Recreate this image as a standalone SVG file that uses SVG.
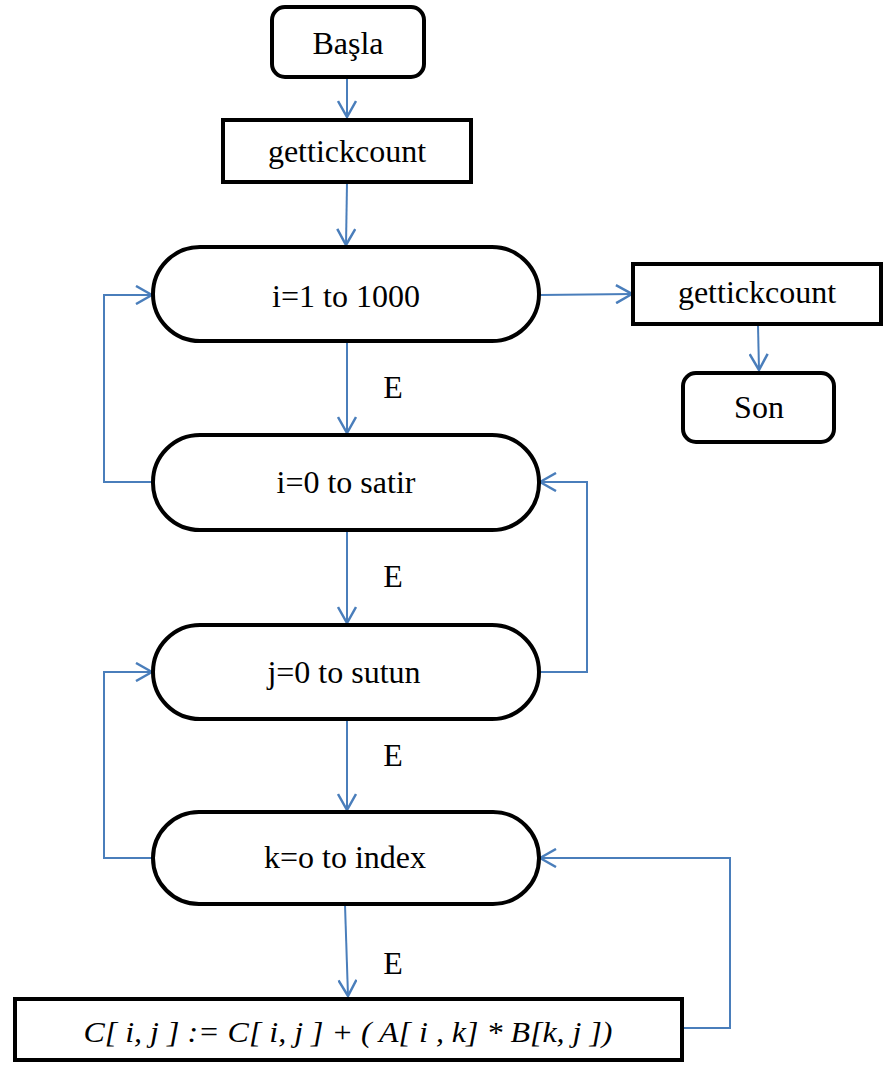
<svg xmlns="http://www.w3.org/2000/svg" width="884" height="1066" viewBox="0 0 884 1066">
  <style>
    .box { fill: #ffffff; stroke: #000000; stroke-width: 4; }
    .lbl { font-family: 'Liberation Serif', 'Times New Roman', Tinos, 'DejaVu Serif', serif; font-size: 32px; fill: #000000; text-anchor: middle; }
    .formula { font-style: italic; font-size: 30px; }
    .edge { fill: none; stroke: #4A7EBB; stroke-width: 2; }
  </style>
  <defs>
    <marker id="arrow" viewBox="0 0 18 20" refX="17" refY="10" markerWidth="18" markerHeight="20" markerUnits="userSpaceOnUse" orient="auto">
      <path d="M1,1 L17,10 L1,19" fill="none" stroke="#4A7EBB" stroke-width="2.5"/>
    </marker>
  </defs>
  <rect width="884" height="1066" fill="#ffffff"/>

  <!-- connectors -->
  <g id="connectors">
    <path class="edge" d="M347,78 L347,117" marker-end="url(#arrow)"/>
    <path class="edge" d="M347,183 L346,245" marker-end="url(#arrow)"/>
    <path class="edge" d="M540,295 L632,294" marker-end="url(#arrow)"/>
    <path class="edge" d="M758,325 L759,370" marker-end="url(#arrow)"/>
    <path class="edge" d="M347,343 L347,433" marker-end="url(#arrow)"/>
    <path class="edge" d="M347,532 L347,623" marker-end="url(#arrow)"/>
    <path class="edge" d="M347,720 L347,810" marker-end="url(#arrow)"/>
    <path class="edge" d="M345,905 L348,996" marker-end="url(#arrow)"/>
    <!-- outer loop back to i=1 to 1000 -->
    <path class="edge" d="M152,482 L104,482 L104,295 L152,295" marker-end="url(#arrow)"/>
    <!-- j loop back to i=0 to satir -->
    <path class="edge" d="M540,672 L587,672 L587,482 L540,482" marker-end="url(#arrow)"/>
    <!-- k loop back to j=0 to sutun -->
    <path class="edge" d="M152,858 L104,858 L104,672 L152,672" marker-end="url(#arrow)"/>
    <!-- body back to k=o to index -->
    <path class="edge" d="M683,1028 L730,1028 L730,858 L540,858" marker-end="url(#arrow)"/>
  </g>

  <g id="start">
    <rect class="box" x="272" y="7" width="152" height="70" rx="13"/>
    <text class="lbl" x="348" y="54">Başla</text>
  </g>

  <g id="tick-start">
    <rect class="box" x="223" y="120" width="248" height="62"/>
    <text class="lbl" x="347" y="162">gettickcount</text>
  </g>

  <g id="loop-outer">
    <rect class="box" x="153" y="247" width="386" height="94" rx="47"/>
    <text class="lbl" x="346" y="307">i=1 to 1000</text>
  </g>

  <g id="tick-end">
    <rect class="box" x="633" y="264" width="248" height="60"/>
    <text class="lbl" x="757" y="303">gettickcount</text>
  </g>

  <g id="end">
    <rect class="box" x="683" y="373" width="151" height="69" rx="13"/>
    <text class="lbl" x="759" y="418">Son</text>
  </g>

  <g id="loop-i">
    <rect class="box" x="153" y="435" width="386" height="95" rx="47"/>
    <text class="lbl" x="346" y="493">i=0 to satir</text>
  </g>

  <g id="loop-j">
    <rect class="box" x="153" y="625" width="386" height="94" rx="47"/>
    <text class="lbl" x="344" y="683">j=0 to sutun</text>
  </g>

  <g id="loop-k">
    <rect class="box" x="153" y="812" width="386" height="92" rx="46"/>
    <text class="lbl" x="345" y="868">k=o to index</text>
  </g>

  <g id="body">
    <rect class="box" x="15" y="999" width="667" height="61"/>
    <text class="lbl formula" x="348" y="1042" textLength="529" lengthAdjust="spacingAndGlyphs">C[ i, j ] := C[ i, j ] + ( A[ i , k] * B[k, j ])</text>
  </g>

  <g id="edge-labels">
    <text class="lbl" x="393" y="398">E</text>
    <text class="lbl" x="393" y="587">E</text>
    <text class="lbl" x="393" y="766">E</text>
    <text class="lbl" x="393" y="974">E</text>
  </g>
</svg>
